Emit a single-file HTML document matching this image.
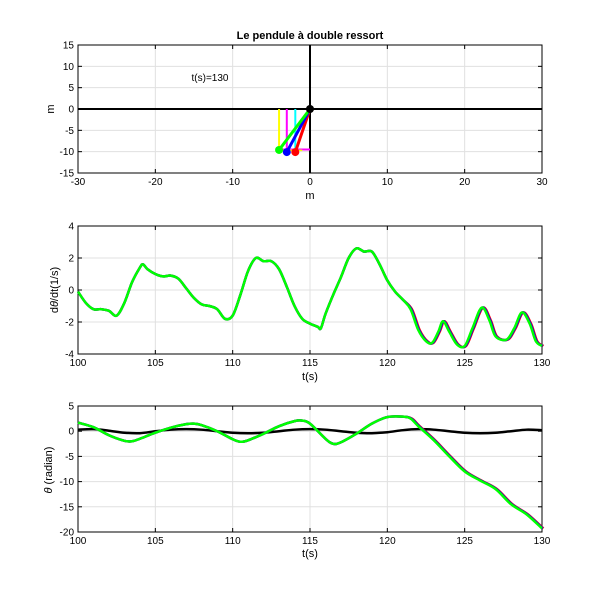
<!DOCTYPE html>
<html><head><meta charset="utf-8">
<style>
body{margin:0;background:#fff;font-family:"Liberation Sans",sans-serif;}
svg text{font-family:"Liberation Sans",sans-serif;}
</style></head>
<body>
<svg id="c" width="600" height="600" xmlns="http://www.w3.org/2000/svg"></svg>
<script>
// ---- data ----
const dTimes=[100,100.5,101,101.5,102,102.5,103,103.5,104,104.2,104.5,105,105.5,106,106.5,107,107.5,108,108.5,109,109.5,110,110.5,111,111.5,112,112.5,113,113.5,114,114.5,115,115.5,115.7,116,116.5,117,117.5,118,118.5,119,119.5,120,120.5,121,121.5,122,122.5,122.9,123.3,123.6,124,124.5,125,125.5,126.1,126.6,127,127.7,128.2,128.7,129.2,129.6,130];
const dValues=[-0.1,-0.8,-1.2,-1.2,-1.3,-1.6,-0.8,0.5,1.4,1.6,1.3,1.0,0.85,0.9,0.7,0.1,-0.5,-0.9,-1.0,-1.2,-1.8,-1.6,-0.3,1.2,2.0,1.8,1.8,1.3,0.2,-1.0,-1.8,-2.1,-2.3,-2.4,-1.5,-0.3,0.8,2.0,2.6,2.4,2.4,1.6,0.6,-0.1,-0.6,-1.2,-2.5,-3.2,-3.3,-2.6,-1.95,-2.6,-3.4,-3.5,-2.4,-1.1,-1.9,-2.9,-3.1,-2.4,-1.4,-2.1,-3.2,-3.5];
const thTimes=[100,101,102,103,103.5,104,105,106,107,107.5,108,109,110,110.5,111,112,113,114,114.5,115,116,116.5,117,118,119,120,121,121.5,122,123,124,125,126,127,128,129,130];
const thValues=[1.7,0.8,-0.8,-1.9,-2.0,-1.5,-0.3,0.7,1.4,1.5,1.2,0,-1.6,-2.1,-1.8,-0.5,1.0,2.0,2.1,1.5,-1.5,-2.5,-2.2,-0.5,1.5,2.8,2.9,2.5,1.0,-1.8,-5,-8,-9.8,-11.5,-14.5,-16.5,-19.3];
const th1Times=[100,101,102,103,104,105,106,107,108,109,110,111,112,113,114,115,116,117,118,119,120,121,122,123,124,125,126,127,128,129,130];
const th1Values=[0.3,0.4,0.1,-0.3,-0.4,0,0.3,0.4,0.3,0,-0.3,-0.4,-0.3,0,0.3,0.4,0.3,0,-0.3,-0.4,-0.2,0.2,0.4,0.3,0,-0.3,-0.4,-0.3,0,0.3,0.2];
const lagOffsets=[0.09,0.045]; // red, blue time lag after t=121
const massX=[-4.0,-3.0,-1.9]; const massY=[-9.6,-10.1,-10.1];
const springX=[-4.0,-3.0,-1.9];
const xTicks1=[-30,-20,-10,0,10,20,30], yTicks1=[-15,-10,-5,0,5,10,15];
const tTicks=[100,105,110,115,120,125,130];
const yTicks2=[-4,-2,0,2,4], yTicks3=[-20,-15,-10,-5,0,5];
// ---- drawing ----
const NS="http://www.w3.org/2000/svg", svg=document.getElementById('c');
function el(t,a,p){const e=document.createElementNS(NS,t);for(const k in a)e.setAttribute(k,a[k]);(p||svg).appendChild(e);return e;}
function axes(box,xr,yr,xt,yt,name){
  const g=el('g',{});
  
  
  const sx=v=>box.x+(v-xr[0])/(xr[1]-xr[0])*box.w;
  const sy=v=>box.y+box.h-(v-yr[0])/(yr[1]-yr[0])*box.h;
  xt.forEach(v=>{el('line',{x1:sx(v),x2:sx(v),y1:box.y,y2:box.y+box.h,stroke:'#e0e0e0','stroke-width':1},g);
    el('line',{x1:sx(v),x2:sx(v),y1:box.y+box.h,y2:box.y+box.h-4,stroke:'#000'},g);
    el('line',{x1:sx(v),x2:sx(v),y1:box.y,y2:box.y+4,stroke:'#000'},g);
    const t=el('text',{x:sx(v),y:box.y+box.h+12,'font-size':10,'text-anchor':'middle'},g);t.textContent=v;
    });
  yt.forEach(v=>{el('line',{x1:box.x,x2:box.x+box.w,y1:sy(v),y2:sy(v),stroke:'#e0e0e0','stroke-width':1},g);
    el('line',{x1:box.x,x2:box.x+4,y1:sy(v),y2:sy(v),stroke:'#000'},g);
    el('line',{x1:box.x+box.w,x2:box.x+box.w-4,y1:sy(v),y2:sy(v),stroke:'#000'},g);
    const t=el('text',{x:box.x-4,y:sy(v)+3.5,'font-size':10,'text-anchor':'end'},g);t.textContent=v;
    });
  el('rect',{x:box.x,y:box.y,width:box.w,height:box.h,fill:'none',stroke:'#000','stroke-width':1},g);
  return {sx,sy,g};
}
function poly(a,xs,ys,col,w,name,off){
  const P=xs.map((x,i)=>[a.sx(x+(off&&x>121?off:0)),a.sy(ys[i])]);
  let d='M'+P[0][0]+','+P[0][1];
  for(let i=0;i<P.length-1;i++){
    const p0=P[Math.max(0,i-1)],p1=P[i],p2=P[i+1],p3=P[Math.min(P.length-1,i+2)];
    const c1=[p1[0]+(p2[0]-p0[0])/6,p1[1]+(p2[1]-p0[1])/6];
    const c2=[p2[0]-(p3[0]-p1[0])/6,p2[1]-(p3[1]-p1[1])/6];
    d+=' C'+c1[0]+','+c1[1]+' '+c2[0]+','+c2[1]+' '+p2[0]+','+p2[1];
  }
  const p=el('path',{d:d,fill:'none',stroke:col,'stroke-width':w,'stroke-linejoin':'round'});
  return p;
}
function txt(x,y,s,attrs,name){const t=el('text',Object.assign({x,y,'font-size':11,'text-anchor':'middle'},attrs||{}));t.innerHTML=s;
  return t;}

// plot 1
const a1=axes({x:78,y:45,w:464,h:128},[-30,30],[-15,15],xTicks1,yTicks1,'pendulum-axes');
txt(310,39,'Le pendule à double ressort',{'font-weight':'bold'},'chart-title');
txt(210,81,'t(s)=130',{'font-size':10},'time-annotation');
txt(310,199,'m',{},'x-axis-title');
txt(54,109,'m',{transform:'rotate(-90 54 109)'},'y-axis-title');
el('line',{x1:a1.sx(-30),x2:a1.sx(30),y1:a1.sy(0),y2:a1.sy(0),stroke:'#000','stroke-width':2});
el('line',{x1:a1.sx(0),x2:a1.sx(0),y1:a1.sy(15),y2:a1.sy(-15),stroke:'#000','stroke-width':2});
const sCols=['#ffff00','#ff00ff','#00ffff'];
springX.forEach((x,i)=>{const l=el('line',{x1:a1.sx(x),x2:a1.sx(x),y1:a1.sy(0),y2:a1.sy(-9.5),stroke:sCols[i],'stroke-width':2});
  });
el('line',{x1:a1.sx(-4),x2:a1.sx(0),y1:a1.sy(-9.5),y2:a1.sy(-9.5),stroke:'#ff00ff','stroke-width':2});
el('line',{x1:a1.sx(-4),x2:a1.sx(-1),y1:a1.sy(-9.7),y2:a1.sy(-9.7),stroke:'#ffff00','stroke-width':1.5});
const mCols=['#00ff00','#0000ff','#ff0000'];
[2,1,0].forEach(i=>{const l=el('line',{x1:a1.sx(0),y1:a1.sy(0),x2:a1.sx(massX[i]),y2:a1.sy(massY[i]),stroke:mCols[i],'stroke-width':3});
  
  const c=el('circle',{cx:a1.sx(massX[i]),cy:a1.sy(massY[i]),r:4,fill:mCols[i]});
  });
el('circle',{cx:a1.sx(0),cy:a1.sy(0),r:4,fill:'#000'});

// plot 2
const a2=axes({x:78,y:226,w:464,h:128},[100,130],[-4,4],tTicks,yTicks2,'angular-velocity-axes');
txt(310,380,'t(s)',{},'x-axis-title-2');
txt(58,290,'d<tspan font-style="italic">θ</tspan>/dt(1/s)',{transform:'rotate(-90 58 290)'},'y-axis-title-2');
poly(a2,dTimes,dValues,'#ff0000',2.5,'velocity-red',lagOffsets[0]);
poly(a2,dTimes,dValues,'#0000ff',2.5,'velocity-blue',lagOffsets[1]);
poly(a2,dTimes,dValues,'#00ff00',2.5,'velocity-green',0);

// plot 3
const a3=axes({x:78,y:406,w:464,h:126},[100,130],[-20,5],tTicks,yTicks3,'angle-axes');
txt(310,557,'t(s)',{},'x-axis-title-3');
txt(52,470,'<tspan font-style="italic">θ</tspan> (radian)',{transform:'rotate(-90 52 470)'},'y-axis-title-3');
poly(a3,th1Times,th1Values,'#000000',2.5,'angle-1-black',0);
poly(a3,thTimes,thValues,'#ff0000',2.5,'angle-red',lagOffsets[0]);
poly(a3,thTimes,thValues,'#0000ff',2.5,'angle-blue',lagOffsets[1]);
poly(a3,thTimes,thValues,'#00ff00',2.5,'angle-green',0);
</script>
</body></html>
